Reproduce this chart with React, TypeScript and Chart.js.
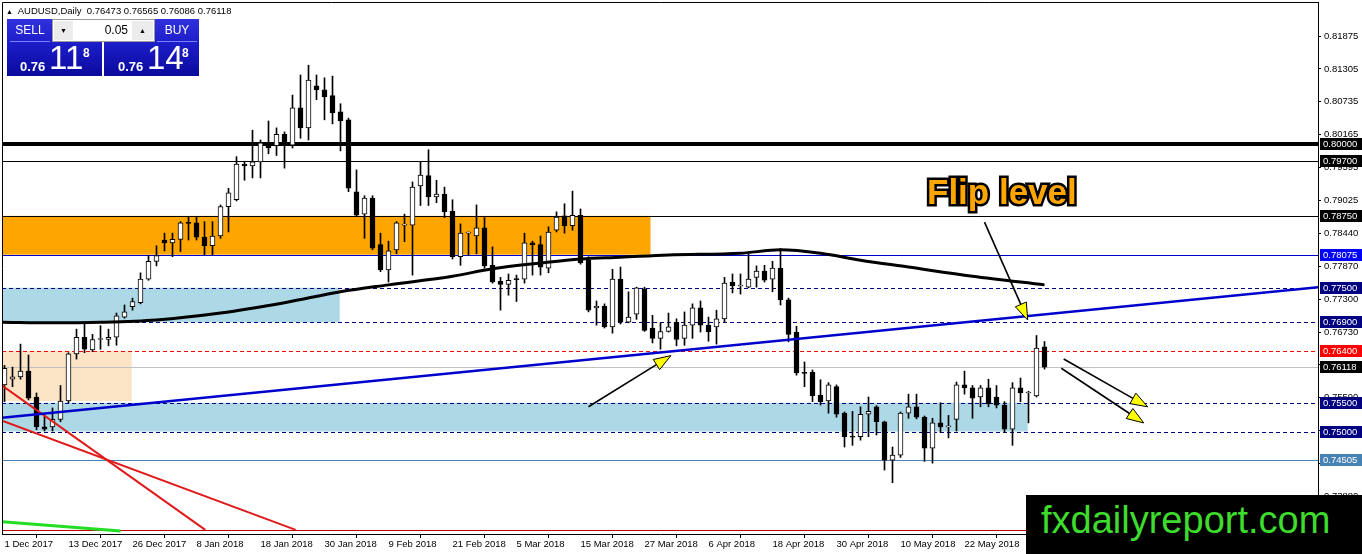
import { useEffect, useRef } from 'react';
import { Chart, registerables, Plugin } from 'chart.js';

Chart.register(...registerables);

// AUDUSD daily candles from 1 Dec 2017, one entry per bar
const dateLabels = [
  '1 Dec 2017', '13 Dec 2017', '26 Dec 2017', '8 Jan 2018', '18 Jan 2018', '30 Jan 2018',
  '9 Feb 2018', '21 Feb 2018', '5 Mar 2018', '15 Mar 2018', '27 Mar 2018', '6 Apr 2018',
  '18 Apr 2018', '30 Apr 2018', '10 May 2018', '22 May 2018',
];
const barsPerLabel = 8;

const opens = [
  0.7581, 0.7591, 0.7595, 0.7605, 0.7560, 0.7508, 0.7508, 0.7521, 0.7553, 0.7635,
  0.7664, 0.7642, 0.7660, 0.7660, 0.7664, 0.7699, 0.7717, 0.7724, 0.7765, 0.7796,
  0.7833, 0.7828, 0.7834, 0.7863, 0.7863, 0.7838, 0.7823, 0.7840, 0.7891, 0.7903,
  0.7965, 0.7962, 0.7969, 0.7997, 0.7997, 0.8017, 0.7998, 0.8063, 0.8028, 0.8101,
  0.8094, 0.8084, 0.8056, 0.8042, 0.7917, 0.7878, 0.7906, 0.7825, 0.7781, 0.7816,
  0.7859, 0.7859, 0.7927, 0.7945, 0.7908, 0.7913, 0.7883, 0.7804, 0.7845, 0.7840,
  0.7854, 0.7789, 0.7761, 0.7756, 0.7765, 0.7765, 0.7828, 0.7825, 0.7784, 0.7850,
  0.7875, 0.7858, 0.7876, 0.7798, 0.7715, 0.7718, 0.7682, 0.7765, 0.7690, 0.7704,
  0.7748, 0.7680, 0.7662, 0.7674, 0.7690, 0.7662, 0.7685, 0.7715, 0.7685, 0.7682,
  0.7696, 0.7760, 0.7753, 0.7751, 0.7768, 0.7779, 0.7765, 0.7784, 0.7729, 0.7673,
  0.7602, 0.7603, 0.7563, 0.7553, 0.7578, 0.7532, 0.7491, 0.7491, 0.7530, 0.7543,
  0.7517, 0.7450, 0.7459, 0.7532, 0.7543, 0.7525, 0.7471, 0.7515, 0.7508, 0.7521,
  0.7581, 0.7576, 0.7560, 0.7576, 0.7560, 0.7546, 0.7504, 0.7576, 0.7567, 0.7562,
  0.76473,
];
const highs = [
  0.7615, 0.7612, 0.7652, 0.7633, 0.7567, 0.7528, 0.7541, 0.7580, 0.7637, 0.7678,
  0.7687, 0.7669, 0.7684, 0.7678, 0.7706, 0.7720, 0.7732, 0.7776, 0.7806, 0.7823,
  0.7845, 0.7845, 0.7865, 0.7873, 0.7873, 0.7865, 0.7865, 0.7894, 0.7923, 0.7978,
  0.7970, 0.8024, 0.8007, 0.8040, 0.8028, 0.8021, 0.8085, 0.8120, 0.8137, 0.8120,
  0.8115, 0.8118, 0.8070, 0.8045, 0.7955, 0.7910, 0.7910, 0.7845, 0.7831, 0.7865,
  0.7878, 0.7934, 0.7969, 0.7990, 0.7937, 0.7925, 0.7903, 0.7861, 0.7847, 0.7894,
  0.7872, 0.7821, 0.7768, 0.7774, 0.7772, 0.7845, 0.7831, 0.7840, 0.7856, 0.7882,
  0.7896, 0.7918, 0.7887, 0.7804, 0.7727, 0.7722, 0.7782, 0.7786, 0.7743, 0.7751,
  0.7751, 0.7702, 0.7689, 0.7706, 0.7696, 0.7708, 0.7722, 0.7727, 0.7699, 0.7711,
  0.7768, 0.7774, 0.7774, 0.7809, 0.7788, 0.7789, 0.7796, 0.7818, 0.7732, 0.7683,
  0.7621, 0.7607, 0.7590, 0.7585, 0.7581, 0.7534, 0.7535, 0.7543, 0.7560, 0.7545,
  0.7518, 0.7473, 0.7534, 0.7565, 0.7565, 0.7527, 0.7523, 0.7550, 0.7528, 0.7586,
  0.7605, 0.7580, 0.7580, 0.7591, 0.7580, 0.7552, 0.7585, 0.7593, 0.7570, 0.7667,
  0.76565,
];
const lows = [
  0.7552, 0.7578, 0.7591, 0.7555, 0.7503, 0.7501, 0.7501, 0.7517, 0.7550, 0.7626,
  0.7637, 0.7639, 0.7643, 0.7649, 0.7650, 0.7697, 0.7711, 0.7722, 0.7763, 0.7788,
  0.7814, 0.7804, 0.7813, 0.7833, 0.7833, 0.7807, 0.7807, 0.7836, 0.7847, 0.7901,
  0.7937, 0.7941, 0.7941, 0.7983, 0.7980, 0.7958, 0.7993, 0.8010, 0.8007, 0.8077,
  0.8042, 0.8035, 0.7988, 0.7917, 0.7875, 0.7836, 0.7816, 0.7778, 0.7760, 0.7809,
  0.7830, 0.7772, 0.7893, 0.7893, 0.7898, 0.7872, 0.7800, 0.7789, 0.7806, 0.7809,
  0.7784, 0.7758, 0.7711, 0.7737, 0.7726, 0.7758, 0.7772, 0.7772, 0.7776, 0.7847,
  0.7845, 0.7850, 0.7791, 0.7708, 0.7685, 0.7680, 0.7671, 0.7687, 0.7689, 0.7695,
  0.7674, 0.7654, 0.7643, 0.7673, 0.7649, 0.7650, 0.7662, 0.7673, 0.7657, 0.7652,
  0.7690, 0.7741, 0.7739, 0.7750, 0.7751, 0.7760, 0.7743, 0.7720, 0.7656, 0.7598,
  0.7578, 0.7552, 0.7546, 0.7532, 0.7525, 0.7473, 0.7476, 0.7485, 0.7491, 0.7494,
  0.7433, 0.7411, 0.7455, 0.7523, 0.7522, 0.7448, 0.7445, 0.7498, 0.7489, 0.7501,
  0.7565, 0.7523, 0.7543, 0.7543, 0.7541, 0.7498, 0.7476, 0.7552, 0.7515, 0.7560,
  0.76086,
];
const closes = [
  0.7610, 0.7595, 0.7605, 0.7558, 0.7508, 0.7504, 0.7521, 0.7553, 0.7635, 0.7664,
  0.7643, 0.7660, 0.7661, 0.7664, 0.7701, 0.7708, 0.7726, 0.7765, 0.7796, 0.7806,
  0.7828, 0.7834, 0.7863, 0.7862, 0.7838, 0.7823, 0.7840, 0.7891, 0.7915, 0.7965,
  0.7962, 0.7969, 0.8002, 0.7993, 0.8017, 0.7998, 0.8063, 0.8028, 0.8111, 0.8094,
  0.8082, 0.8054, 0.8040, 0.7923, 0.7876, 0.7906, 0.7819, 0.7781, 0.7814, 0.7863,
  0.7860, 0.7925, 0.7946, 0.7908, 0.7913, 0.7882, 0.7804, 0.7845, 0.7846, 0.7854,
  0.7788, 0.7760, 0.7756, 0.7763, 0.7764, 0.7828, 0.7825, 0.7786, 0.7847, 0.7873,
  0.7858, 0.7876, 0.7793, 0.7711, 0.7718, 0.7682, 0.7765, 0.7690, 0.7699, 0.7750,
  0.7676, 0.7662, 0.7674, 0.7682, 0.7660, 0.7685, 0.7715, 0.7685, 0.7673, 0.7696,
  0.7758, 0.7753, 0.7754, 0.7765, 0.7779, 0.7763, 0.7784, 0.7729, 0.7669, 0.7602,
  0.7601, 0.7562, 0.7552, 0.7581, 0.7530, 0.7491, 0.7490, 0.7530, 0.7535, 0.7517,
  0.7450, 0.7459, 0.7532, 0.7543, 0.7525, 0.7471, 0.7515, 0.7508, 0.7509, 0.7581,
  0.7576, 0.7558, 0.7576, 0.7548, 0.7546, 0.7504, 0.7576, 0.7567, 0.7568, 0.7645,
  0.76118,
];

// moving average, sampled along the curve (bar index, price)
const maBars = [-0.3, 6, 12, 19, 27, 35, 42, 48, 56, 61, 67, 72, 77, 83, 92, 97, 102, 107, 113, 121, 130];
const maValues = [
  0.7690, 0.7689, 0.7690, 0.7694, 0.7706, 0.7724, 0.7743, 0.7755, 0.7770, 0.7783, 0.7793,
  0.7800, 0.7803, 0.7807, 0.7810, 0.7816, 0.7810, 0.7798, 0.7786, 0.7770, 0.7755,
];

// trend lines: [bar1, price1, bar2, price2]
const blueTrend = [-0.3, 0.7524, 164.2, 0.7751];
const redTrends = [
  [-0.3, 0.7580, 25.1, 0.7329],
  [-0.3, 0.7519, 36.4, 0.7329],
];
const greenTrend = [-0.3, 0.7343, 14.5, 0.7327];

// zones: bar from, bar to, price top, price bottom
const zoneFrom = [-0.3, -0.3, -0.3, -0.3];
const zoneTo = [80.75, 41.9, 15.9, 127.9];
const zoneTop = [0.7875, 0.775, 0.764, 0.755];
const zoneBottom = [0.78075, 0.769, 0.7553, 0.75];
const zoneColors = ['#ffa500', '#add8e6', '#fbe3c6', '#add8e6'];

// horizontal levels
const levelPrices = [0.8, 0.797, 0.7875, 0.78075, 0.775, 0.769, 0.764, 0.76118, 0.755, 0.75, 0.74505, 0.7329];
const levelStyles = [
  { color: '#000000', width: 4, dash: [], box: '#000000' },
  { color: '#000000', width: 1, dash: [], box: '#000000' },
  { color: '#000000', width: 1, dash: [], box: '#000000' },
  { color: '#0000cd', width: 1, dash: [], box: '#0000ff' },
  { color: '#000080', width: 1, dash: [4, 3], box: '#000080' },
  { color: '#000080', width: 1, dash: [4, 3], box: '#000080' },
  { color: '#ff0000', width: 1, dash: [4, 3], box: '#ff0000' },
  { color: '#c0c0c0', width: 1, dash: [], box: '#000000' },
  { color: '#000080', width: 1, dash: [4, 3], box: '#000080' },
  { color: '#000080', width: 1, dash: [4, 3], box: '#000080' },
  { color: '#4682b4', width: 1, dash: [], box: '#4682b4' },
  { color: '#c00000', width: 1, dash: [], box: '' },
];

const priceTicks = [
  0.81875, 0.81305, 0.80735, 0.80165, 0.79595, 0.79025, 0.7844, 0.7787,
  0.773, 0.7673, 0.7616, 0.7559, 0.7502, 0.7445, 0.7388,
];

// arrows: [bar1, price1, bar2, price2]
const arrows = [
  [122.5, 0.7864, 127.9, 0.7694],
  [73.0, 0.7543, 83.3, 0.7632],
  [132.4, 0.7626, 142.9, 0.7543],
  [132.1, 0.7610, 142.4, 0.7515],
];

const FONT = '"Liberation Sans", Arial, sans-serif';

const mtObjects: Plugin<'bar'> = {
  id: 'mtObjects',
  beforeDatasetsDraw(chart) {
    const { ctx, chartArea, scales } = chart;
    const xs = scales.x;
    const ys = scales.y;
    ctx.save();
    ctx.beginPath();
    ctx.rect(chartArea.left, chartArea.top, chartArea.width, chartArea.height);
    ctx.clip();
    zoneFrom.forEach((from, i) => {
      const x1 = xs.getPixelForValue(from);
      const x2 = xs.getPixelForValue(zoneTo[i]);
      const y1 = ys.getPixelForValue(zoneTop[i]);
      const y2 = ys.getPixelForValue(zoneBottom[i]);
      ctx.fillStyle = zoneColors[i];
      ctx.fillRect(x1, y1, x2 - x1, y2 - y1);
    });
    levelPrices.forEach((p, i) => {
      const st = levelStyles[i];
      const y = Math.round(ys.getPixelForValue(p)) + (st.width % 2 ? 0.5 : 0);
      ctx.strokeStyle = st.color;
      ctx.lineWidth = st.width;
      ctx.setLineDash(st.dash);
      ctx.beginPath();
      ctx.moveTo(chartArea.left, y);
      ctx.lineTo(chartArea.right, y);
      ctx.stroke();
    });
    ctx.restore();
  },
  afterDatasetsDraw(chart) {
    const { ctx, scales } = chart;
    const xs = scales.x;
    const ys = scales.y;
    ctx.save();
    arrows.forEach(([b1, p1, b2, p2]) => {
      const x1 = xs.getPixelForValue(b1);
      const y1 = ys.getPixelForValue(p1);
      const x2 = xs.getPixelForValue(b2);
      const y2 = ys.getPixelForValue(p2);
      const ang = Math.atan2(y2 - y1, x2 - x1);
      const len = 17;
      const half = 6;
      const bx = x2 - len * Math.cos(ang);
      const by = y2 - len * Math.sin(ang);
      ctx.strokeStyle = '#000';
      ctx.lineWidth = 1.6;
      ctx.beginPath();
      ctx.moveTo(x1, y1);
      ctx.lineTo(bx, by);
      ctx.stroke();
      ctx.beginPath();
      ctx.moveTo(x2, y2);
      ctx.lineTo(bx - half * Math.sin(ang), by + half * Math.cos(ang));
      ctx.lineTo(bx + half * Math.sin(ang), by - half * Math.cos(ang));
      ctx.closePath();
      ctx.fillStyle = '#ffff00';
      ctx.fill();
      ctx.lineWidth = 1;
      ctx.stroke();
    });
    ctx.restore();
  },
  afterDraw(chart) {
    const { ctx, chartArea, scales } = chart;
    const ys = scales.y;
    ctx.save();
    // chart frame (left and top)
    ctx.strokeStyle = '#000';
    ctx.lineWidth = 1;
    ctx.beginPath();
    ctx.moveTo(chartArea.left + 0.5, chartArea.bottom);
    ctx.lineTo(chartArea.left + 0.5, chartArea.top + 0.5);
    ctx.lineTo(chartArea.right, chartArea.top + 0.5);
    ctx.stroke();
    // price boxes on the axis
    ctx.font = `9.5px ${FONT}`;
    ctx.textBaseline = 'middle';
    ctx.textAlign = 'left';
    levelPrices.forEach((p, i) => {
      const st = levelStyles[i];
      if (!st.box) return;
      const y = Math.round(ys.getPixelForValue(p));
      ctx.fillStyle = st.box;
      ctx.fillRect(chartArea.right + 2, y - 6, 42, 12);
      ctx.fillStyle = '#fff';
      ctx.fillText(p.toFixed(5), chartArea.right + 5, y + 0.5);
    });
    ctx.restore();
  },
};

function line(pts: number[], color: string, width: number) {
  return {
    type: 'line' as const,
    data: [{ x: pts[0], y: pts[1] }, { x: pts[2], y: pts[3] }],
    borderColor: color,
    borderWidth: width,
    pointRadius: 0,
  };
}

function CandleChart() {
  const chartRef = useRef<HTMLCanvasElement>(null);
  const chartInstance = useRef<Chart | null>(null);

  useEffect(() => {
    if (!chartRef.current) return;
    if (chartInstance.current) chartInstance.current.destroy();
    const ctx = chartRef.current.getContext('2d');
    if (!ctx) return;

    const bodies = opens.map((o, i) => ({ x: i, y: [o, closes[i]] }));
    const wicks = lows.map((l, i) => ({ x: i, y: [l, highs[i]] }));
    const bodyColors = opens.map((o, i) => (closes[i] >= o ? '#ffffff' : '#000000'));

    chartInstance.current = new Chart(ctx, {
      type: 'bar',
      data: {
        datasets: [
          {
            type: 'line',
            data: maBars.map((b, i) => ({ x: b, y: maValues[i] })),
            borderColor: '#000',
            borderWidth: 3,
            pointRadius: 0,
            cubicInterpolationMode: 'monotone',
          },
          line(blueTrend, '#0000cd', 2.5),
          line(redTrends[0], '#e01a1a', 2),
          line(redTrends[1], '#e01a1a', 2),
          line(greenTrend, '#22dd22', 3),
          {
            data: bodies,
            backgroundColor: bodyColors,
            borderColor: '#000',
            borderWidth: 1,
            borderSkipped: false,
            barThickness: 5,
            minBarLength: 1,
            grouped: false,
          },
          {
            data: wicks,
            backgroundColor: '#000',
            borderWidth: 0,
            barThickness: 1,
            grouped: false,
          },
        ] as any,
      },
      options: {
        responsive: false,
        animation: false,
        events: [],
        layout: { padding: { left: 2, top: 2, right: 0, bottom: 0 } },
        plugins: { legend: { display: false }, tooltip: { enabled: false } },
        scales: {
          x: {
            type: 'linear',
            min: -0.3125,
            max: 164.1875,
            offset: false,
            afterBuildTicks: (scale) => {
              scale.ticks = dateLabels.map((_, i) => ({ value: i * barsPerLabel }));
            },
            afterFit: (scale) => {
              scale.height = 20;
              scale.paddingLeft = 0;
              scale.paddingRight = 0;
            },
            ticks: {
              autoSkip: false,
              maxRotation: 0,
              align: 'start',
              padding: 1,
              color: '#000',
              font: { family: FONT, size: 9.5 },
              callback: (_v, i) => dateLabels[i],
            },
            grid: { drawOnChartArea: false, drawTicks: true, tickLength: 4, color: '#000' },
            border: { display: true, color: '#000' },
          },
          y: {
            type: 'linear',
            position: 'right',
            min: 0.73218,
            max: 0.82469,
            afterBuildTicks: (scale) => {
              scale.ticks = priceTicks.map((v) => ({ value: v }));
            },
            afterFit: (scale) => {
              scale.width = 44;
              scale.paddingTop = 0;
              scale.paddingBottom = 0;
            },
            ticks: {
              autoSkip: false,
              padding: 3,
              color: '#000',
              font: { family: FONT, size: 9.5 },
              callback: (v) => Number(v).toFixed(5),
            },
            grid: { drawOnChartArea: false, drawTicks: true, tickLength: 3, color: '#000' },
            border: { display: true, color: '#000' },
          },
        },
      },
      plugins: [mtObjects],
    });

    return () => {
      if (chartInstance.current) {
        chartInstance.current.destroy();
        chartInstance.current = null;
      }
    };
  }, []);

  return <canvas ref={chartRef} width={1362} height={554} style={{ position: 'absolute', left: 0, top: 0 }} />;
}

const blueBlock: React.CSSProperties = {
  position: 'absolute',
  top: 19,
  width: 95,
  height: 57,
  background: 'linear-gradient(to bottom, #3030dc 0%, #1c1cc8 45%, #0a0a9c 100%)',
  color: '#fff',
};

export default function App() {
  useEffect(() => {
    document.body.style.margin = '0';
  }, []);

  return (
    <div style={{ position: 'relative', width: 1362, height: 554, background: '#fff', overflow: 'hidden', fontFamily: FONT }}>
      <CandleChart />

      {/* symbol header */}
      <div style={{ position: 'absolute', left: 6, top: 5, fontSize: 9.5, lineHeight: '12px', color: '#000', whiteSpace: 'pre' }}>
        <span style={{ fontSize: 7 }}>▲</span>{'  AUDUSD,Daily  0.76473 0.76565 0.76086 0.76118'}
      </div>

      {/* one click trading panel */}
      <div style={{ ...blueBlock, left: 7 }}>
        <div style={{ position: 'absolute', left: 3, top: 0, width: 40, height: 22, borderBottom: '1px solid #8080ff', fontSize: 12, lineHeight: '22px', textAlign: 'center' }}>SELL</div>
        <span style={{ position: 'absolute', left: 13, top: 40, fontSize: 13, fontWeight: 'bold', lineHeight: '16px' }}>0.76</span>
        <span style={{ position: 'absolute', left: 42, top: 20, fontSize: 33, lineHeight: '38px' }}>11</span>
        <span style={{ position: 'absolute', left: 76, top: 27, fontSize: 12, fontWeight: 'bold', lineHeight: '14px' }}>8</span>
      </div>
      <div style={{ ...blueBlock, left: 104 }}>
        <div style={{ position: 'absolute', left: 53, top: 0, width: 40, height: 22, borderBottom: '1px solid #8080ff', fontSize: 12, lineHeight: '22px', textAlign: 'center' }}>BUY</div>
        <span style={{ position: 'absolute', left: 14, top: 40, fontSize: 13, fontWeight: 'bold', lineHeight: '16px' }}>0.76</span>
        <span style={{ position: 'absolute', left: 43, top: 20, fontSize: 33, lineHeight: '38px' }}>14</span>
        <span style={{ position: 'absolute', left: 78, top: 27, fontSize: 12, fontWeight: 'bold', lineHeight: '14px' }}>8</span>
      </div>
      <div style={{ position: 'absolute', left: 52, top: 19, width: 101, height: 21, background: '#fff', border: '1px solid #9a9a9a', fontSize: 12, lineHeight: '21px', color: '#000' }}>
        <div style={{ position: 'absolute', left: 1, top: 1, width: 19, height: 19, background: '#ececec', fontSize: 7, lineHeight: '19px', textAlign: 'center' }}>▼</div>
        <div style={{ position: 'absolute', right: 26, top: 0 }}>0.05</div>
        <div style={{ position: 'absolute', right: 1, top: 1, width: 21, height: 19, background: '#ececec', fontSize: 7, lineHeight: '19px', textAlign: 'center' }}>▲</div>
      </div>

      {/* annotation text */}
      <div
        style={{
          position: 'absolute',
          left: 927,
          top: 174,
          fontSize: 35,
          lineHeight: '35px',
          fontWeight: 'bold',
          color: '#ffa500',
          WebkitTextStroke: '5px #000',
          paintOrder: 'stroke fill',
          whiteSpace: 'nowrap',
        }}
      >
        Flip level
      </div>

      {/* watermark */}
      <div style={{ position: 'absolute', left: 1026, top: 495, width: 336, height: 59, background: '#000' }}>
        <span style={{ position: 'absolute', left: 15, top: 6, fontSize: 38, lineHeight: '38px', color: '#3edc2c', whiteSpace: 'nowrap' }}>
          fxdailyreport.com
        </span>
      </div>
    </div>
  );
}
